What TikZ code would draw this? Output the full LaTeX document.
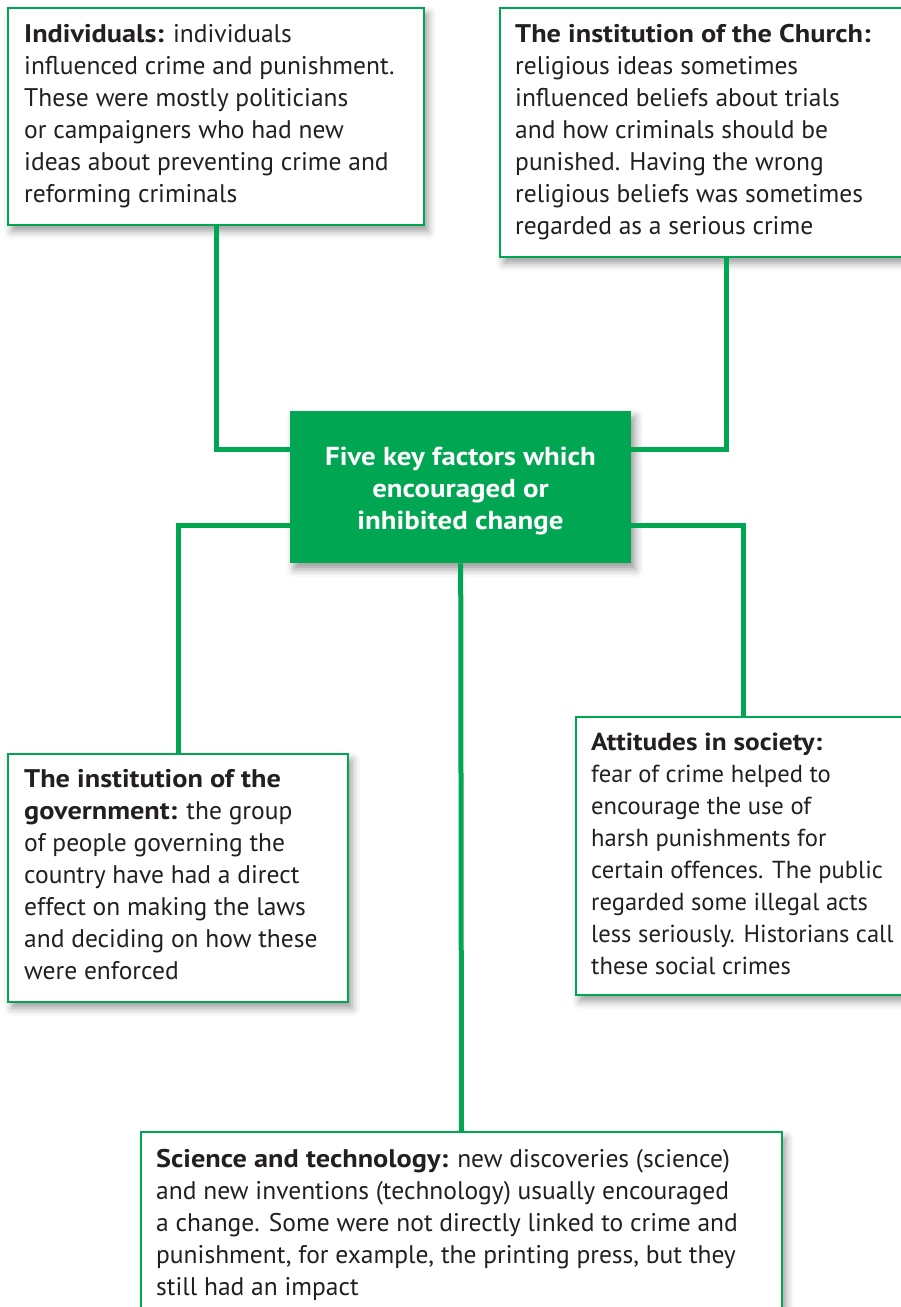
\documentclass[tikz,border=0pt]{standalone}
\usepackage{fontspec}
\setmainfont{PT Sans}[BoldFeatures={FakeStretch=1.11}]
\usetikzlibrary{shadows.blur}
\definecolor{kgreen}{HTML}{00A651}
\definecolor{ktext}{HTML}{231F20}
\tikzset{
  boxstyle/.style={draw=kgreen, line width=2pt, fill=white, rectangle, inner sep=0pt,
    anchor=north west,
    blur shadow={shadow xshift=4pt, shadow yshift=-6pt, shadow blur radius=8pt, shadow opacity=40}},
  hubstyle/.style={fill=kgreen, rectangle, inner sep=0pt, anchor=north west,
    blur shadow={shadow xshift=4pt, shadow yshift=-6pt, shadow blur radius=8pt, shadow opacity=40}},
  txtstyle/.style={anchor=north west, inner sep=0pt, align=left, text=ktext,
    font=\fontsize{25.5}{32}\selectfont},
  hubtxt/.style={anchor=north, inner sep=0pt, align=center, text=white,
    font=\fontsize{26}{32}\selectfont\bfseries},
  link/.style={draw=kgreen, line width=5pt}
}
\begin{document}
\begin{tikzpicture}[x=1pt,y=-1pt]
\useasboundingbox (0,0) rectangle (901,1307);
% boxes
\node[boxstyle, minimum width=416, minimum height=217] (b1) at (7,7) {};
\node[boxstyle, minimum width=421, minimum height=249] (b2) at (499,7) {};
\node[hubstyle, minimum width=341, minimum height=152] (hub) at (290,411) {};
\node[boxstyle, minimum width=340, minimum height=248] (b3) at (7,753) {};
\node[boxstyle, minimum width=345, minimum height=278] (b4) at (575,716) {};
\node[boxstyle, minimum width=641, minimum height=200] (b5) at (140,1131) {};
% texts
\node[txtstyle] (t1) at (24,42-22.4) {\strut\textbf{Individuals:} individuals\\
influenced crime and punishment.\\
These were mostly politicians\\
or campaigners who had new\\
ideas about preventing crime and\\
reforming criminals};
\node[txtstyle] (t2) at (515,42-22.4) {\strut\textbf{The institution of the Church:}\\
religious ideas sometimes\\
influenced beliefs about trials\\
and how criminals should be\\
punished. Having the wrong\\
religious beliefs was sometimes\\
regarded as a serious crime};
\node[hubtxt] (th) at (460.5,465-22.4) {\strut Five key factors which\\
encouraged or\\
inhibited change};
\node[txtstyle] (t3) at (24,787-22.4) {\strut\textbf{The institution of the}\\
\textbf{government:} the group\\
of people governing the\\
country have had a direct\\
effect on making the laws\\
and deciding on how these\\
were enforced};
\node[txtstyle, font=\fontsize{24.6}{32}\selectfont] (t4) at (591,750-22.4) {\strut\textbf{Attitudes in society:}\\
fear of crime helped to\\
encourage the use of\\
harsh punishments for\\
certain offences. The public\\
regarded some illegal acts\\
less seriously. Historians call\\
these social crimes};
\node[txtstyle] (t5) at (156,1167-22.4) {\strut\textbf{Science and technology:} new discoveries (science)\\
and new inventions (technology) usually encouraged\\
a change. Some were not directly linked to crime and\\
punishment, for example, the printing press, but they\\
still had an impact};
% connectors
\draw[link] (b1.south) |- ([yshift=38pt]hub.west);
\draw[link] ([yshift=38pt]hub.east) -| ([xshift=227pt]b2.south west);
\draw[link] ([yshift=-38pt]hub.west) -| (b3.north);
\draw[link] ([yshift=-38pt]hub.east) -| ([xshift=168pt]b4.north west);
\draw[link] (hub.south) -- (b5.north);
\end{tikzpicture}
\end{document}
